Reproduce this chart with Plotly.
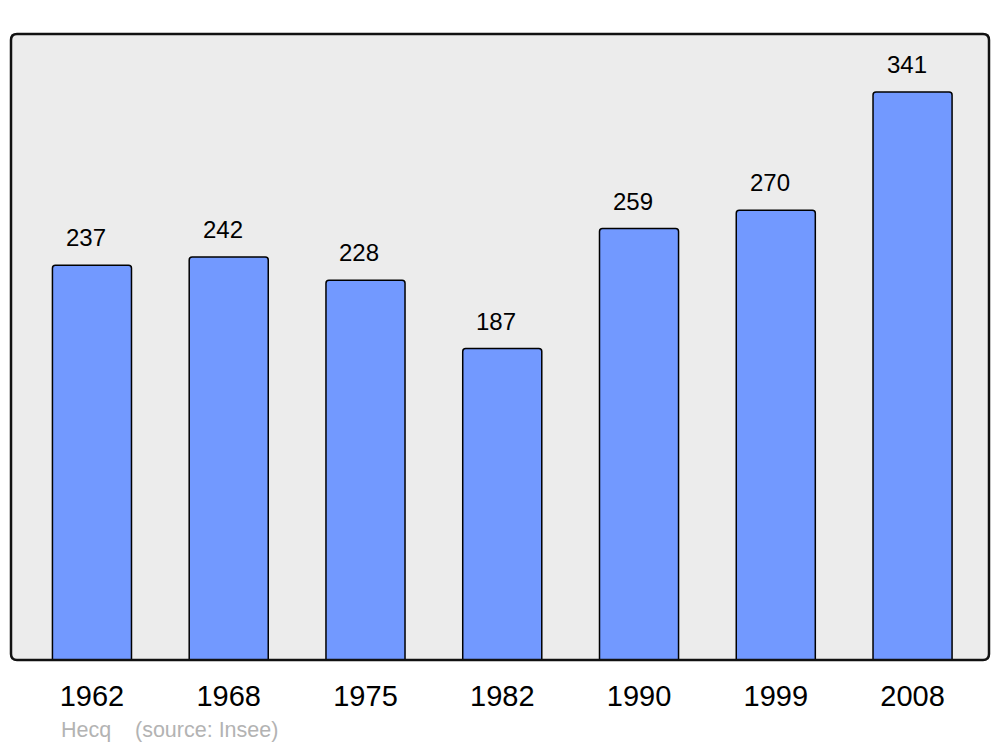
import plotly.graph_objects as go

years = ["1962", "1968", "1975", "1982", "1990", "1999", "2008"]
population = [237, 242, 228, 187, 259, 270, 341]
commune = "Hecq"
source = "(source: Insee)"

FONT = "Liberation Sans, Arial, sans-serif"
idx = list(range(len(years)))

fig = go.Figure()
fig.add_trace(go.Bar(
    x=idx, y=population, width=0.578,
    marker=dict(color="#7299ff", line=dict(color="#000000", width=1.5), cornerradius=3),
    hoverinfo="skip",
))

for i, v in zip(idx, population):
    fig.add_annotation(x=i, y=v, text=str(v), showarrow=False, xref="x", yref="y",
                       yanchor="bottom", yshift=12, xshift=-6,
                       font=dict(family=FONT, size=24, color="#000000"))

L, R, T, B = 11, 989, 34, 660
W, H = R - L, B - T
for px, txt in [(59, commune), (133, source)]:
    fig.add_annotation(x=(px - L) / W, y=(B - 730) / H, xref="paper", yref="paper",
                       text=txt, showarrow=False, xanchor="left", yanchor="middle",
                       font=dict(family=FONT, size=21.5, color="#b3b3b3"))

rx, ry = 6 / W, 6 / H
path = (f"M {rx},0 L {1-rx},0 Q 1,0 1,{ry} L 1,{1-ry} Q 1,1 {1-rx},1 "
        f"L {rx},1 Q 0,1 0,{1-ry} L 0,{ry} Q 0,0 {rx},0 Z")
fig.add_shape(type="path", path=path, xref="paper", yref="paper",
              line=dict(color="#111111", width=2.5), layer="above")

fig.update_layout(
    width=1000, height=747,
    margin=dict(l=L, r=1000 - R, t=T, b=747 - B),
    paper_bgcolor="#ffffff", plot_bgcolor="#ececec",
    showlegend=False,
    xaxis=dict(range=[-0.592, 6.559], tickvals=idx, ticktext=years, showgrid=False,
               zeroline=False, showline=False, ticks="", ticklabelstandoff=16,
               tickfont=dict(family=FONT, size=29, color="#000000"), fixedrange=True),
    yaxis=dict(range=[0, 375.8], showgrid=False, zeroline=False, showticklabels=False,
               showline=False, ticks="", fixedrange=True),
)

fig.write_html("out.html", config={"displayModeBar": False})
with open("out.html", "r", encoding="utf-8") as f:
    html = f.read()
html = html.replace("<head>", "<head><style>html,body{margin:0;padding:0;overflow:hidden;}</style>", 1)
with open("out.html", "w", encoding="utf-8") as f:
    f.write(html)
